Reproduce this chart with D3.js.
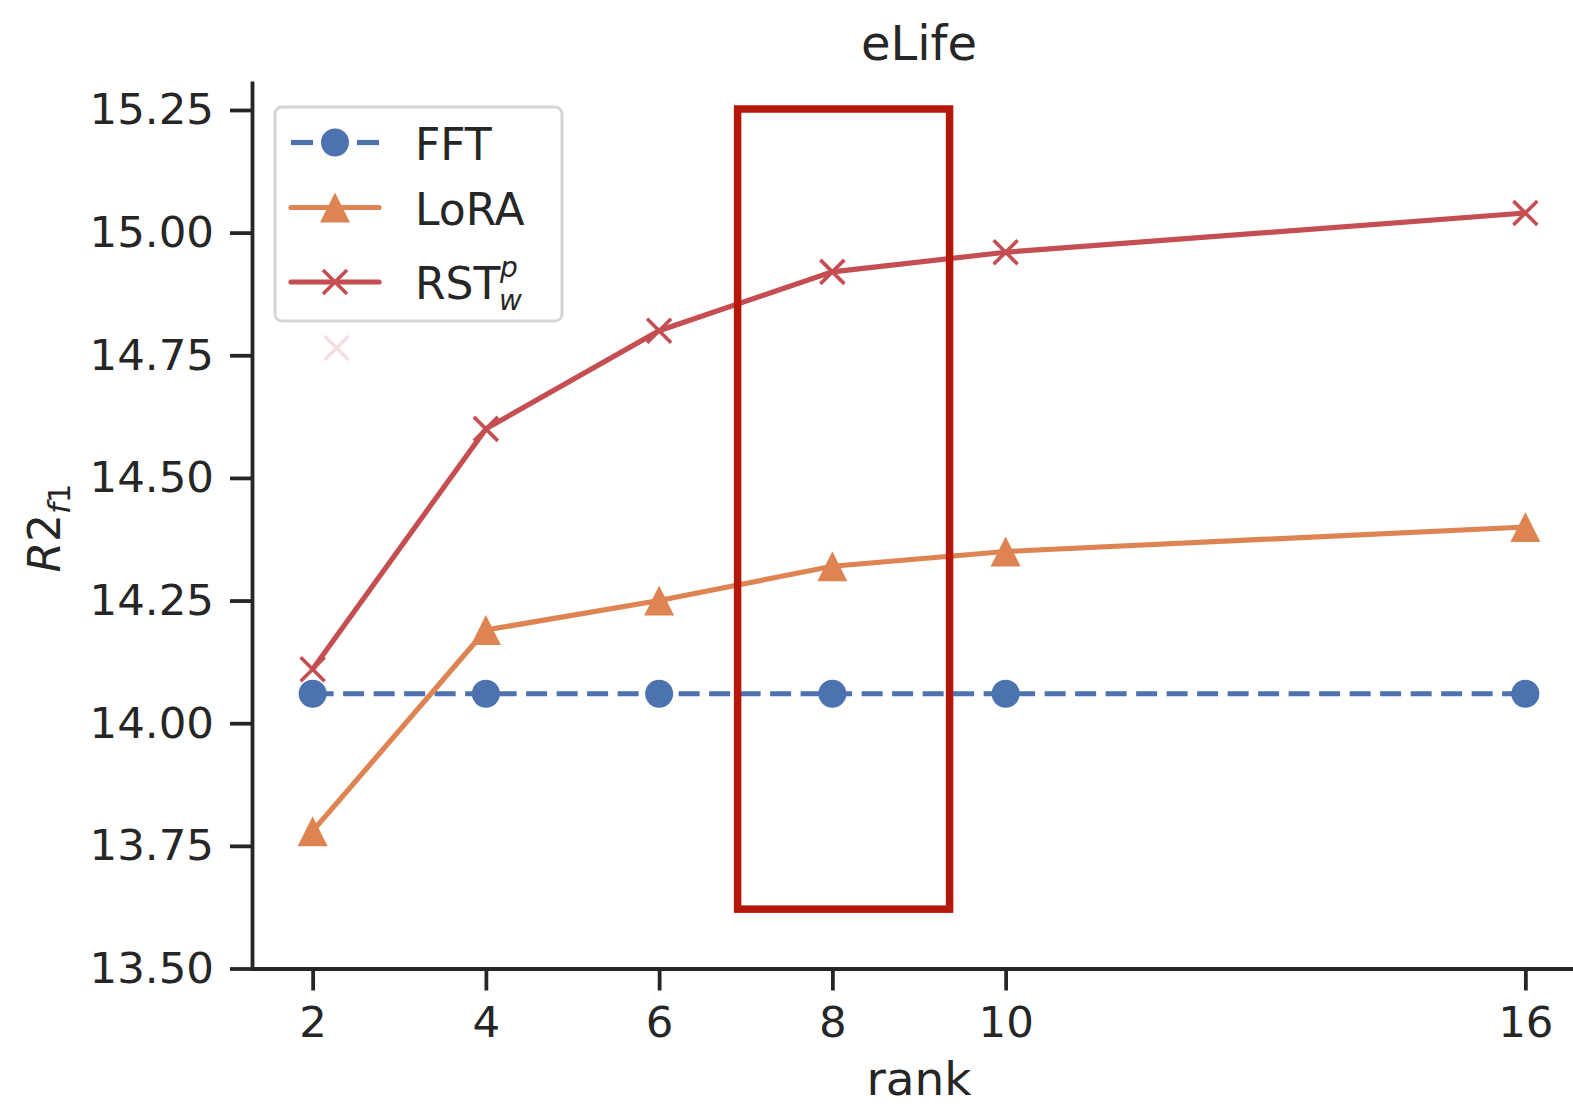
<!DOCTYPE html>
<html><head><meta charset="utf-8">
<script src="https://cdn.jsdelivr.net/npm/d3@7"></script>
<style>body{margin:0;background:#fff}svg{display:block}text{font-family:"DejaVu Sans",sans-serif;fill:#262626}</style>
</head><body><svg id="c" width="1573" height="1108"></svg>
<script>
const ranks = [2, 4, 6, 8, 10, 16];
const fft = [14.06, 14.06, 14.06, 14.06, 14.06, 14.06];
const lora = [13.78, 14.19, 14.25, 14.32, 14.35, 14.40];
const rst = [14.11, 14.60, 14.80, 14.92, 14.96, 15.04];
const yTicks = [13.50, 13.75, 14.00, 14.25, 14.50, 14.75, 15.00, 15.25];
const highlightX = [6.906, 9.353];
const highlightY = [13.621, 15.252];
const strayMarker = [2.277, 14.765];

const svg = d3.select("#c");
const L = 252, R = 1586, T = 83, B = 968.5;
const x = d3.scaleLinear().domain([1.3, 16.7]).range([L, R]);
const y = d3.scaleLinear().domain([13.5, 15.305]).range([B, T]);
const ink = "#262626";

// axes
const gx = svg.append("g").attr("transform", `translate(0,${B})`)
  .call(d3.axisBottom(x).tickValues(ranks).tickFormat(d3.format("d")).tickSize(22).tickSizeOuter(0).tickPadding(16));
const gy = svg.append("g").attr("transform", `translate(${L},0)`)
  .call(d3.axisLeft(y).tickValues(yTicks).tickFormat(d3.format(".2f")).tickSize(22).tickSizeOuter(0).tickPadding(16));
[gx, gy].forEach(g => {
  g.select(".domain").attr("stroke", ink).attr("stroke-width", 3.8).attr("stroke-linecap", "square");
  g.selectAll(".tick line").attr("stroke", ink).attr("stroke-width", 3.8);
  g.selectAll(".tick text").attr("font-size", 43.5).attr("fill", ink);
});

// titles
svg.append("text").attr("x", (L + R) / 2).attr("y", 60).attr("text-anchor", "middle").attr("font-size", 48).text("eLife");
svg.append("text").attr("x", (L + R) / 2).attr("y", 1095).attr("text-anchor", "middle").attr("font-size", 47).text("rank");
const yl = svg.append("text").attr("transform", "translate(60,528) rotate(-90)").attr("text-anchor", "middle").attr("font-size", 44);
yl.append("tspan").attr("font-style", "italic").text("R");
yl.append("tspan").text("2");
yl.append("tspan").attr("font-style", "italic").attr("font-size", 31).attr("dy", 10).text("f");
yl.append("tspan").attr("font-size", 31).text("1");

const line = d3.line().x((d, i) => x(ranks[i])).y(d => y(d));
const cBlue = "#4c72b0", cOrange = "#dd8452", cRed = "#c44e52";
const LW = 5.2;

function xMarker(g, cx, cy, s, color, op) {
  g.append("path").attr("d", `M${cx - s},${cy - s}L${cx + s},${cy + s}M${cx - s},${cy + s}L${cx + s},${cy - s}`)
    .attr("stroke", color).attr("stroke-width", 3.6).attr("fill", "none").attr("opacity", op || 1);
}
function tri(g, cx, cy, w, color) {
  const h = w;
  g.append("path").attr("d", `M${cx},${cy - h / 2}L${cx + w / 2},${cy + h / 2}L${cx - w / 2},${cy + h / 2}Z`)
    .attr("fill", color);
}

// FFT
svg.append("path").datum(fft).attr("d", line).attr("fill", "none").attr("stroke", cBlue)
  .attr("stroke-width", LW).attr("stroke-dasharray", "21,9.5");
svg.selectAll(".fc").data(fft).enter().append("circle")
  .attr("cx", (d, i) => x(ranks[i])).attr("cy", d => y(d)).attr("r", 14).attr("fill", cBlue);
// LoRA
svg.append("path").datum(lora).attr("d", line).attr("fill", "none").attr("stroke", cOrange).attr("stroke-width", LW);
const lg = svg.append("g");
lora.forEach((d, i) => tri(lg, x(ranks[i]), y(d), 30, cOrange));
// RST
svg.append("path").datum(rst).attr("d", line).attr("fill", "none").attr("stroke", cRed).attr("stroke-width", LW);
const rg = svg.append("g");
rst.forEach((d, i) => xMarker(rg, x(ranks[i]), y(d), 12, cRed));

// stray faint marker
xMarker(svg, x(strayMarker[0]), y(strayMarker[1]), 12, cRed, 0.18);

// highlight rectangle
svg.append("rect").attr("x", x(highlightX[0])).attr("y", y(highlightY[1]))
  .attr("width", x(highlightX[1]) - x(highlightX[0])).attr("height", y(highlightY[0]) - y(highlightY[1]))
  .attr("fill", "none").attr("stroke", "#b5170a").attr("stroke-width", 7.5);

// legend
const leg = svg.append("g");
leg.append("rect").attr("x", 275).attr("y", 107).attr("width", 287).attr("height", 214).attr("rx", 7)
  .attr("fill", "#fff").attr("fill-opacity", 0.8).attr("stroke", "#d5d5d5").attr("stroke-width", 3);
const items = [
  {name: "FFT", color: cBlue, y: 142.5, type: "c"},
  {name: "LoRA", color: cOrange, y: 207.5, type: "t"},
  {name: "RST", color: cRed, y: 282, type: "x"}
];
items.forEach(it => {
  if (it.type === "c") {
    leg.append("line").attr("x1", 291).attr("x2", 313).attr("y1", it.y).attr("y2", it.y).attr("stroke", it.color).attr("stroke-width", LW);
    leg.append("line").attr("x1", 357).attr("x2", 379).attr("y1", it.y).attr("y2", it.y).attr("stroke", it.color).attr("stroke-width", LW);
    leg.append("circle").attr("cx", 335).attr("cy", it.y).attr("r", 14).attr("fill", it.color);
  } else {
    leg.append("line").attr("x1", 291).attr("x2", 379).attr("y1", it.y).attr("y2", it.y)
      .attr("stroke", it.color).attr("stroke-width", LW).attr("stroke-linecap", "round");
    if (it.type === "t") tri(leg, 335, it.y, 30, it.color);
    else xMarker(leg, 335, it.y, 12, it.color);
  }
  leg.append("text").attr("x", 415).attr("y", it.y + 17).attr("font-size", 44).text(it.name);
  if (it.type === "x") {
    leg.append("text").attr("font-style", "italic").attr("font-size", 28).attr("x", 500).attr("y", it.y - 5).text("p");
    leg.append("text").attr("font-style", "italic").attr("font-size", 28).attr("x", 499).attr("y", it.y + 28).text("w");
  }
});
</script></body></html>
